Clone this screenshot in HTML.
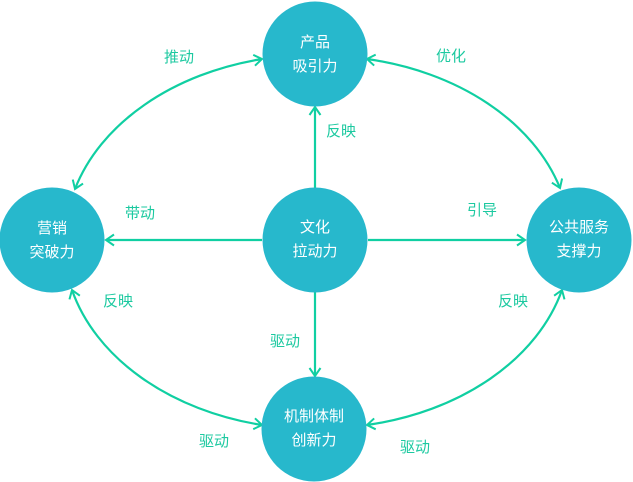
<!DOCTYPE html>
<html><head><meta charset="utf-8"><style>
html,body{margin:0;padding:0;background:#fff;}
svg{display:block;}
text{font-family:"Liberation Sans","Noto Sans CJK SC",sans-serif;font-size:15px;}
.lbl{fill:#1cc9a0;}
.ct{fill:#fff;}
</style></head><body>
<svg width="633" height="482" viewBox="0 0 633 482" xmlns="http://www.w3.org/2000/svg">
<defs>
<marker id="ah" markerUnits="userSpaceOnUse" markerWidth="20" markerHeight="20" refX="0" refY="0" viewBox="-10 -10 20 20" orient="auto-start-reverse">
<path d="M-8,-5.5 L0,0 L-8,5.5" fill="none" stroke="#10cfa2" stroke-width="2"/>
</marker>
</defs>
<g fill="none" stroke="#10cfa2" stroke-width="2.2">
<path d="M75,189 A250,186 0 0 1 262,59" marker-start="url(#ah)" marker-end="url(#ah)"/>
<path d="M367,59 A250,186 0 0 1 560,188" marker-start="url(#ah)" marker-end="url(#ah)"/>
<path d="M562,290 A250,186 0 0 1 367,425" marker-start="url(#ah)" marker-end="url(#ah)"/>
<path d="M262,425 A250,186 0 0 1 72,290" marker-start="url(#ah)" marker-end="url(#ah)"/>
<path d="M315,188 L315,107" marker-end="url(#ah)"/>
<path d="M262,240 L106,240" marker-end="url(#ah)"/>
<path d="M368,240 L525,240" marker-end="url(#ah)"/>
<path d="M315,292 L315,376" marker-end="url(#ah)"/>
</g>
<g fill="#27b8cc">
<circle cx="315" cy="54" r="52.5"/>
<circle cx="52" cy="240" r="52.5"/>
<circle cx="315" cy="240" r="52.5"/>
<circle cx="579" cy="240" r="52.5"/>
<circle cx="314" cy="429" r="52.5"/>
</g>
<g class="ct" text-anchor="middle">
<text x="315" y="47">产品</text>
<text x="315" y="71">吸引力</text>
<text x="52" y="233">营销</text>
<text x="52" y="257">突破力</text>
<text x="315" y="232">文化</text>
<text x="315" y="256">拉动力</text>
<text x="579" y="232">公共服务</text>
<text x="579" y="256">支撑力</text>
<text x="314" y="421">机制体制</text>
<text x="314" y="445">创新力</text>
</g>
<g class="lbl" text-anchor="middle">
<text x="179" y="62">推动</text>
<text x="451" y="61">优化</text>
<text x="341" y="136">反映</text>
<text x="140" y="218">带动</text>
<text x="482" y="215">引导</text>
<text x="118" y="306">反映</text>
<text x="513" y="306">反映</text>
<text x="285" y="346">驱动</text>
<text x="214" y="446">驱动</text>
<text x="415" y="452">驱动</text>
</g>
</svg>
</body></html>
